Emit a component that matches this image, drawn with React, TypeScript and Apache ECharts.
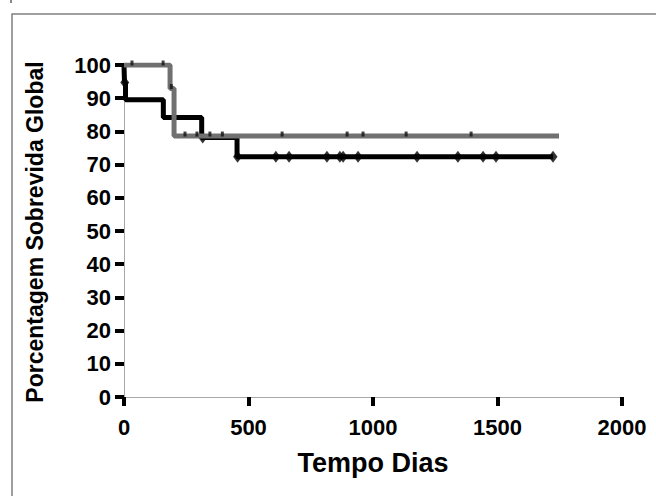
import React, { useEffect, useRef } from "react";
import * as echarts from "echarts";

// Kaplan-Meier curve of the gray group: event times (days) and survival (%)
const grayTimes = [0, 185, 201, 1747];
const grayValues = [100, 92.9, 78.6, 78.6];
// censored observations of the gray group
const grayCensorTimes = [32, 157, 190, 245, 293, 345, 395, 635, 896, 960, 1133, 1394];
const grayCensorValues = [100, 100, 92.9, 78.6, 78.6, 78.6, 78.6, 78.6, 78.6, 78.6, 78.6, 78.6];

// Kaplan-Meier curve of the black group
const blackTimes = [0, 2, 6, 158, 312, 454, 1723];
const blackValues = [100, 94.7, 89.5, 84.2, 78.2, 72.4, 72.4];
// censored observations of the black group
const blackCensorTimes = [3, 316, 456, 610, 663, 815, 867, 880, 940, 1177, 1341, 1442, 1494, 1723];
const blackCensorValues = [94.7, 78.2, 72.4, 72.4, 72.4, 72.4, 72.4, 72.4, 72.4, 72.4, 72.4, 72.4, 72.4, 72.4];

const xTitle = "Tempo Dias";
const yTitle = "Porcentagem Sobrevida Global";

const zip = (a: number[], b: number[]) => a.map((v, i) => [v, b[i]]);

export default function App() {
  const ref = useRef<HTMLDivElement>(null);
  useEffect(() => {
    if (!ref.current) return;
    const chart = echarts.init(ref.current, undefined, { renderer: "svg" });
    const font = "'Liberation Sans', Arial, sans-serif";
    chart.setOption({
      animation: false,
      backgroundColor: "#fff",
      grid: { left: 124, right: 34, top: 65, bottom: 99, containLabel: false },
      xAxis: {
        type: "value",
        min: 0,
        max: 2000,
        interval: 500,
        axisLine: { show: true, lineStyle: { color: "#a8a8a8", width: 1 } },
        axisTick: { show: true, length: 9, lineStyle: { color: "#000", width: 4 } },
        axisLabel: {
          color: "#000",
          fontSize: 22,
          fontWeight: "bold",
          fontFamily: font,
          margin: 19,
          formatter: (v: number) => String(v),
        },
        splitLine: { show: false },
      },
      yAxis: {
        type: "value",
        min: 0,
        max: 100,
        interval: 10,
        axisLine: { show: true, lineStyle: { color: "#a8a8a8", width: 1 } },
        axisTick: { show: true, length: 9, lineStyle: { color: "#000", width: 4 } },
        axisLabel: {
          color: "#000",
          fontSize: 22,
          fontWeight: "bold",
          fontFamily: font,
          margin: 13,
          formatter: (v: number) => String(v),
        },
        splitLine: { show: false },
      },
      graphic: [
        {
          type: "rect",
          shape: { x: 12, y: 14, width: 700, height: 600 },
          style: { fill: "none", stroke: "#808080", lineWidth: 1.5 },
          silent: true,
          z: -10,
        },
        {
          type: "rect",
          shape: { x: 10, y: 0, width: 2, height: 3 },
          style: { fill: "#888" },
          silent: true,
        },
        {
          type: "text",
          x: 35,
          y: 232,
          rotation: Math.PI / 2,
          style: {
            text: yTitle,
            fill: "#000",
            font: `bold 23px ${font}`,
            align: "center",
            verticalAlign: "middle",
          },
        },
        {
          type: "text",
          x: 373,
          y: 463,
          style: {
            text: xTitle,
            fill: "#000",
            font: `bold 27px ${font}`,
            align: "center",
            verticalAlign: "middle",
          },
        },
      ],
      series: [
        {
          name: "black",
          type: "line",
          step: "end",
          data: zip(blackTimes, blackValues),
          symbol: "none",
          lineStyle: { color: "#000", width: 5 },
          z: 2,
        },
        {
          name: "blackCensor",
          type: "scatter",
          data: zip(blackCensorTimes, blackCensorValues),
          symbol: "diamond",
          symbolSize: [9, 12],
          itemStyle: { color: "#000" },
          z: 3,
        },
        {
          name: "gray",
          type: "line",
          step: "end",
          data: zip(grayTimes, grayValues),
          symbol: "none",
          lineStyle: { color: "#707070", width: 5 },
          z: 4,
        },
        {
          name: "grayCensor",
          type: "scatter",
          data: zip(grayCensorTimes, grayCensorValues),
          symbol: "rect",
          symbolSize: [3, 5],
          symbolOffset: [0, -2],
          itemStyle: { color: "#111" },
          z: 5,
        },
      ],
    });
    return () => chart.dispose();
  }, []);
  return (
    <div
      ref={ref}
      style={{ position: "fixed", left: 0, top: 0, width: 656, height: 496, background: "#fff" }}
    />
  );
}
